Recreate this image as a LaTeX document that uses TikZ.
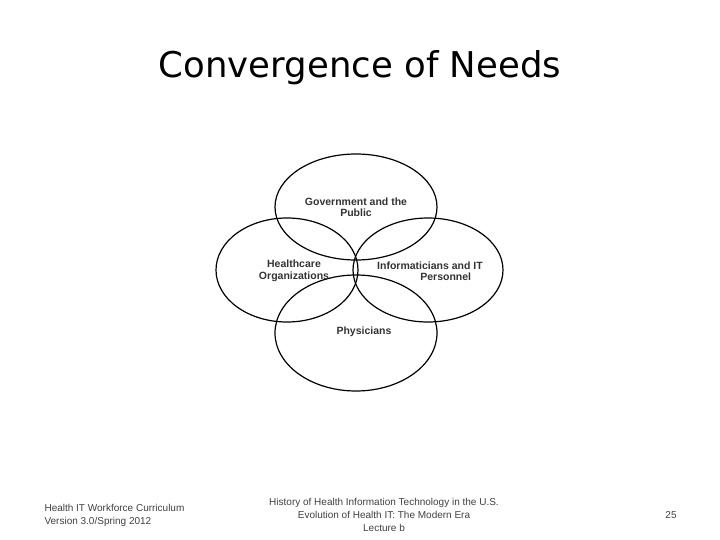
\documentclass[tikz,border=0pt]{standalone}
\usepackage{fontspec}
\setmainfont{Liberation Sans}
\newfontfamily\titlefont{DejaVu Sans}
\begin{document}
\begin{tikzpicture}[x=1pt,y=-1pt,
  ell/.style={draw=black,line width=1.2pt},
  lbl/.style={font=\fontsize{10.5}{11.5}\selectfont\bfseries,align=center,text=black!80},
  foot/.style={font=\fontsize{10}{13}\selectfont,text=black!75,align=left}]
\useasboundingbox (0,0) rectangle (720,540);
\node[font=\titlefont\fontsize{35.5}{40}\selectfont] (title) at (360,68) {Convergence of Needs};
\draw[ell] (356,207) ellipse [x radius=81,y radius=53];
\draw[ell] (287,270) ellipse [x radius=71,y radius=52];
\draw[ell] (428,270) ellipse [x radius=75,y radius=52];
\draw[ell] (356,333) ellipse [x radius=81,y radius=58];
\node[lbl] (g) at (356,207) {Government and the\\Public};
\node[lbl] (h) at (294,271) {Healthcare\\Organizations};
\node[lbl] (i) at (430,271) {Informaticians and IT\\\hspace*{3em}Personnel};
\node[lbl] (p) at (364,332) {Physicians};
\node[foot,anchor=west] (f1) at (41,515) {Health IT Workforce Curriculum\\Version 3.0/Spring 2012};
\node[foot,align=center] (f2) at (384,515) {History of Health Information Technology in the U.S.\\Evolution of Health IT: The Modern Era\\Lecture b};
\node[foot] (f3) at (671,515) {25};
\end{tikzpicture}
\end{document}
